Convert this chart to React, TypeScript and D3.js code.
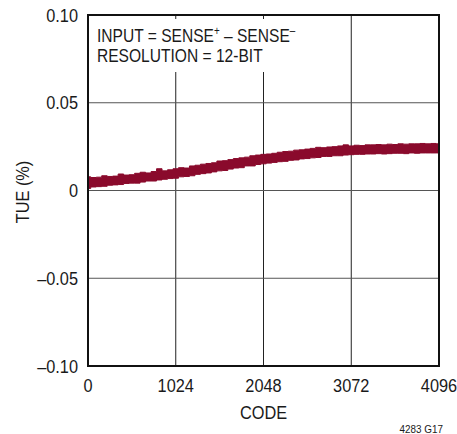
import React from "react";
import * as d3 from "d3";

const W = 457;
const H = 434;

// x axis
const xTicks = [0, 1024, 2048, 3072, 4096];
const yTicks = [0.1, 0.05, 0, -0.05, -0.1];
const yTickLabels = ["0.10", "0.05", "0", "\u20130.05", "\u20130.10"];

// codes sampled every 64
const codes = d3.range(0, 4097, 64);

// TUE upper edge of the band (%)
const tueHigh = [
  0.0078, 0.0074, 0.0076, 0.0084, 0.0080, 0.0082, 0.0094, 0.0088, 0.0090, 0.0098,
  0.0104, 0.0100, 0.0108, 0.0124, 0.0112, 0.0118, 0.0124, 0.0130, 0.0128, 0.0140,
  0.0144, 0.0150, 0.0154, 0.0158, 0.0168, 0.0170, 0.0176, 0.0182, 0.0186, 0.0190,
  0.0198, 0.0202, 0.0206, 0.0208, 0.0212, 0.0218, 0.0222, 0.0224, 0.0230, 0.0232,
  0.0236, 0.0240, 0.0246, 0.0244, 0.0248, 0.0250, 0.0254, 0.0260, 0.0254, 0.0258,
  0.0256, 0.0260, 0.0260, 0.0262, 0.0260, 0.0264, 0.0262, 0.0266, 0.0264, 0.0266,
  0.0266, 0.0268, 0.0266, 0.0268, 0.0266,
];

// TUE lower edge of the band (%)
const tueLow = [
  0.0012, 0.0020, 0.0022, 0.0024, 0.0030, 0.0032, 0.0034, 0.0040, 0.0042, 0.0042,
  0.0048, 0.0054, 0.0054, 0.0060, 0.0064, 0.0068, 0.0070, 0.0078, 0.0080, 0.0084,
  0.0092, 0.0096, 0.0100, 0.0106, 0.0112, 0.0114, 0.0122, 0.0128, 0.0130, 0.0140,
  0.0140, 0.0148, 0.0152, 0.0156, 0.0160, 0.0164, 0.0166, 0.0172, 0.0174, 0.0180,
  0.0182, 0.0186, 0.0188, 0.0194, 0.0194, 0.0198, 0.0198, 0.0202, 0.0204, 0.0206,
  0.0206, 0.0208, 0.0208, 0.0210, 0.0208, 0.0210, 0.0212, 0.0212, 0.0210, 0.0214,
  0.0212, 0.0214, 0.0214, 0.0214, 0.0214,
];

const FONT = "'Liberation Sans', Arial, sans-serif";

function CText(props: {
  x: number;
  y: number;
  size?: number;
  sx?: number;
  anchor?: string;
  rotate?: number;
  children: React.ReactNode;
}) {
  const { x, y, size = 19, sx = 0.86, anchor = "start", rotate = 0, children } = props;
  return (
    <text
      transform={`translate(${x},${y})${rotate ? ` rotate(${rotate})` : ""} scale(${sx},1)`}
      textAnchor={anchor}
      fontFamily={FONT}
      fontSize={size}
      fill="#1a1a1a"
    >
      {children}
    </text>
  );
}

export default function App() {
  const left = 88;
  const right = 439;
  const top = 15;
  const bottom = 366;

  const x = d3.scaleLinear().domain([0, 4096]).range([left, right]);
  const y = d3.scaleLinear().domain([-0.1, 0.1]).range([bottom, top]);

  const area = d3
    .area<number>()
    .x((_, i) => x(codes[i]))
    .y0((_, i) => y(tueLow[i]))
    .y1((_, i) => y(tueHigh[i]))
    .curve(d3.curveStep);

  const bandPath = area(codes) || "";

  return (
    <svg width={W} height={H} style={{ display: "block", position: "absolute", left: 0, top: 0 }}>
      <rect x={0} y={0} width={W} height={H} fill="#fff" />
      {/* grid */}
      {xTicks.slice(1, -1).map((t) => (
        <line key={"gx" + t} x1={x(t)} x2={x(t)} y1={top} y2={bottom} stroke="#222" strokeWidth={1} />
      ))}
      {yTicks.slice(1, -1).map((t) => (
        <line key={"gy" + t} x1={left} x2={right} y1={y(t)} y2={y(t)} stroke="#555" strokeWidth={1} />
      ))}
      {/* annotation background */}
      <rect x={92} y={19} width={205} height={53} fill="#fff" />
      <CText x={97} y={41.5} sx={0.82}>
        INPUT = SENSE
        <tspan dy={-7} fontSize={12}>+</tspan>
        <tspan dy={7}> – SENSE</tspan>
        <tspan dy={-7} fontSize={12}>–</tspan>
      </CText>
      <CText x={97} y={62} sx={0.82}>RESOLUTION = 12-BIT</CText>
      {/* band */}
      <path d={bandPath} fill="#8a0a2c" stroke="#8a0a2c" strokeWidth={1} />
      {/* frame */}
      <rect x={left} y={top} width={right - left} height={bottom - top} fill="none" stroke="#111" strokeWidth={2} />
      {/* y tick labels */}
      {yTicks.map((t, i) => (
        <CText key={"yl" + t} x={78} y={y(t) + 6.5} anchor="end">
          {yTickLabels[i]}
        </CText>
      ))}
      {/* x tick labels */}
      {xTicks.map((t) => (
        <CText key={"xl" + t} x={x(t)} y={392} anchor="middle">
          {String(t)}
        </CText>
      ))}
      <CText x={(left + right) / 2} y={419} anchor="middle">
        CODE
      </CText>
      <CText x={29} y={192} anchor="middle" rotate={-90}>
        TUE (%)
      </CText>
      <CText x={443} y={433} anchor="end" size={11.5}>
        4283 G17
      </CText>
    </svg>
  );
}
